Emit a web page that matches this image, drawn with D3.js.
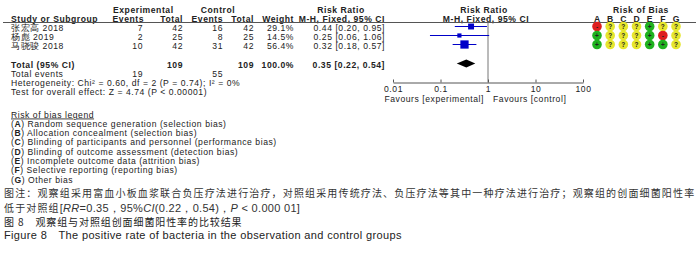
<!DOCTYPE html>
<html>
<head>
<meta charset="utf-8">
<script src="https://cdn.jsdelivr.net/npm/d3@7"></script>
<style>
  body { margin: 0; background: #fff; }
  text { font-family: "Liberation Sans", Arial, sans-serif; fill: #222; }
</style>
</head>
<body>
<script>
// chart data
var studies = ["张宏高 2018", "杨彪 2019", "马骁骏 2018"];
var expEvents = [7, 2, 10];
var expTotal = [42, 25, 42];
var ctrlEvents = [16, 8, 31];
var ctrlTotal = [42, 25, 42];
var weights = [29.1, 14.5, 56.4];
var rr = [0.44, 0.25, 0.32];
var rrLow = [0.20, 0.06, 0.18];
var rrHigh = [0.95, 1.06, 0.57];
var pooled = [0.35, 0.22, 0.54];
var totalEvents = [19, 55];
var totals = [109, 109];
var axisTicks = [0.01, 0.1, 1, 10, 100];
var biasLetters = ["A", "B", "C", "D", "E", "F", "G"];
var biasRows = [
  ["-", "?", "?", "?", "+", "?", "?"],
  ["+", "?", "?", "?", "+", "-", "?"],
  ["+", "?", "?", "?", "+", "+", "?"]
];
var biasLegend = [
  ["A", "Random sequence generation (selection bias)"],
  ["B", "Allocation concealment (selection bias)"],
  ["C", "Blinding of participants and personnel (performance bias)"],
  ["D", "Blinding of outcome assessment (detection bias)"],
  ["E", "Incomplete outcome data (attrition bias)"],
  ["F", "Selective reporting (reporting bias)"],
  ["G", "Other bias"]
];

var svgWidth = 700;
var svgHeight = 258;
var fs = 8.6;
var ls = "0.55px";

var svg = d3.select("body").append("svg")
  .attr("width", svgWidth)
  .attr("height", svgHeight);

// row positions
var rowY = d3.scalePoint().domain(d3.range(studies.length)).range([27.5, 45.5]);

function txt(x, y, s, anchor, bold) {
  return svg.append("text")
    .attr("x", x).attr("y", y)
    .attr("dy", "0.35em")
    .attr("text-anchor", anchor || "start")
    .style("font-size", fs + "px")
    .style("letter-spacing", ls)
    .style("font-weight", bold ? "bold" : "normal")
    .text(s);
}

// header
txt(113, 9.5, "Experimental", "start", true);
txt(218, 9.5, "Control", "middle", true);
txt(341, 9.5, "Risk Ratio", "middle", true);
txt(484, 9.5, "Risk Ratio", "middle", true);
txt(641, 9.5, "Risk of Bias", "middle", true);

txt(11, 18.5, "Study or Subgroup", "start", true);
txt(144, 18.5, "Events", "end", true);
txt(183, 18.5, "Total", "end", true);
txt(223, 18.5, "Events", "end", true);
txt(254, 18.5, "Total", "end", true);
txt(294, 18.5, "Weight", "end", true);
txt(385, 18.5, "M-H, Fixed, 95% CI", "end", true);
txt(486, 18.5, "M-H, Fixed, 95% CI", "middle", true);

svg.append("line")
  .attr("x1", 3).attr("x2", 696)
  .attr("y1", 22.5).attr("y2", 22.5)
  .attr("stroke", "#555").attr("stroke-width", 1);

// study rows
studies.forEach(function(s, i) {
  var y = rowY(i);
  txt(11, y, s, "start");
  txt(143, y, expEvents[i], "end");
  txt(183, y, expTotal[i], "end");
  txt(223, y, ctrlEvents[i], "end");
  txt(254, y, ctrlTotal[i], "end");
  txt(294, y, weights[i].toFixed(1) + "%", "end");
  txt(385, y, rr[i].toFixed(2) + " [" + rrLow[i].toFixed(2) + ", " + rrHigh[i].toFixed(2) + "]", "end");
});

// totals
var totY = 64.5;
txt(11, totY, "Total (95% CI)", "start", true);
txt(183, totY, totals[0], "end", true);
txt(254, totY, totals[1], "end", true);
txt(294, totY, "100.0%", "end", true);
txt(385, totY, pooled[0].toFixed(2) + " [" + pooled[1].toFixed(2) + ", " + pooled[2].toFixed(2) + "]", "end", true);
txt(11, 73.5, "Total events", "start");
txt(143, 73.5, totalEvents[0], "end");
txt(223, 73.5, totalEvents[1], "end");
txt(11, 83, "Heterogeneity: Chi\u00b2 = 0.60, df = 2 (P = 0.74); I\u00b2 = 0%", "start");
txt(11, 92, "Test for overall effect: Z = 4.74 (P < 0.00001)", "start");

// forest plot
var x = d3.scaleLog().domain([0.01, 100]).range([393, 583]);
var axisY = 82.5;

svg.append("line")
  .attr("x1", x(1)).attr("x2", x(1))
  .attr("y1", 22.5).attr("y2", axisY)
  .attr("stroke", "#777").attr("stroke-width", 1);

var xAxis = d3.axisBottom(x)
  .tickValues(axisTicks)
  .tickFormat(d3.format("~g"))
  .tickSizeInner(-3)
  .tickSizeOuter(0)
  .tickPadding(3);

var axisG = svg.append("g")
  .attr("transform", "translate(0," + axisY + ")")
  .call(xAxis);
axisG.select(".domain").attr("stroke", "#555");
axisG.selectAll(".tick line").attr("stroke", "#555");
axisG.selectAll(".tick text")
  .style("font-size", fs + "px")
  .style("letter-spacing", ls)
  .style("font-family", "'Liberation Sans', Arial, sans-serif")
  .attr("fill", "#222");

txt(x(1) - 4, 99, "Favours [experimental]", "end");
txt(x(1) + 5, 99, "Favours [control]", "start");

studies.forEach(function(s, i) {
  var y = rowY(i) - 1;
  svg.append("line")
    .attr("x1", x(rrLow[i])).attr("x2", x(rrHigh[i]))
    .attr("y1", y).attr("y2", y)
    .attr("stroke", "#0000c8").attr("stroke-width", 1);
  var side = Math.sqrt(weights[i]) * 1.1;
  svg.append("rect")
    .attr("x", x(rr[i]) - side / 2).attr("y", y - side / 2)
    .attr("width", side).attr("height", side)
    .attr("fill", "#0000c8");
});

var dy = 4;
var dY = totY - 1;
svg.append("path")
  .attr("d", "M" + x(pooled[1]) + "," + dY +
    "L" + x(pooled[0]) + "," + (dY - dy) +
    "L" + x(pooled[2]) + "," + dY +
    "L" + x(pooled[0]) + "," + (dY + dy) + "Z")
  .attr("fill", "#000");

// risk of bias
var bx = d3.scalePoint().domain(biasLetters).range([597, 676]);
biasLetters.forEach(function(l) {
  svg.append("text")
    .attr("x", bx(l)).attr("y", 18.5).attr("dy", "0.35em")
    .attr("text-anchor", "middle")
    .style("font-size", fs + "px").style("font-weight", "bold")
    .text(l);
});
var biasColor = { "+": "#1fb21f", "?": "#e6e62e", "-": "#de1f1f" };
biasRows.forEach(function(row, i) {
  var y = rowY(i) - 1;
  row.forEach(function(v, j) {
    var cx = bx(biasLetters[j]);
    svg.append("circle")
      .attr("cx", cx).attr("cy", y).attr("r", 4.8)
      .attr("fill", biasColor[v]);
    svg.append("text")
      .attr("x", cx).attr("y", y)
      .attr("dy", "0.35em")
      .attr("text-anchor", "middle")
      .style("font-size", "6.5px")
      .style("font-weight", "bold")
      .text(v);
  });
});

// risk of bias legend
var legY = 114.5;
svg.append("text")
  .attr("x", 11).attr("y", legY).attr("dy", "0.35em")
  .style("font-size", fs + "px")
  .style("letter-spacing", ls)
  .style("text-decoration", "underline")
  .text("Risk of bias legend");
biasLegend.forEach(function(d, i) {
  var t = svg.append("text")
    .attr("x", 11).attr("y", legY + 9.3 * (i + 1)).attr("dy", "0.35em")
    .style("font-size", fs + "px")
    .style("letter-spacing", ls);
  t.append("tspan").text("(");
  t.append("tspan").style("font-weight", "bold").text(d[0]);
  t.append("tspan").text(") " + d[1]);
});

// caption
var cjk = "'Noto Sans CJK SC', sans-serif";
var lat = "'Liberation Sans', Arial, sans-serif";
svg.append("text")
  .attr("x", 4).attr("y", 193.5).attr("dy", "0.35em")
  .style("font-family", cjk).style("font-size", "10px")
  .style("letter-spacing", "1.15px").style("fill", "#333")
  .text("图注：观察组采用富血小板血浆联合负压疗法进行治疗，对照组采用传统疗法、负压疗法等其中一种疗法进行治疗；观察组的创面细菌阳性率");

var l2 = svg.append("text")
  .attr("x", 4).attr("y", 208).attr("dy", "0.35em")
  .style("font-family", lat).style("font-size", "11px")
  .style("letter-spacing", "0.3px").style("fill", "#333");
l2.append("tspan").style("font-family", cjk).style("font-size", "10px").style("letter-spacing", "1.15px").text("低于对照组");
l2.append("tspan").text("[");
l2.append("tspan").style("font-style", "italic").text("RR");
l2.append("tspan").text("=0.35，95%");
l2.append("tspan").style("font-style", "italic").text("CI");
l2.append("tspan").text("(0.22，0.54)，");
l2.append("tspan").style("font-style", "italic").text("P");
l2.append("tspan").text(" < 0.000 01]");

svg.append("text")
  .attr("x", 4).attr("y", 222).attr("dy", "0.35em")
  .style("font-family", cjk).style("font-size", "10px")
  .style("letter-spacing", "0.9px").style("fill", "#222")
  .text("图 8　观察组与对照组创面细菌阳性率的比较结果");

svg.append("text")
  .attr("x", 4).attr("y", 235.5).attr("dy", "0.35em")
  .style("font-family", lat).style("font-size", "11px")
  .style("letter-spacing", "0.35px").style("fill", "#222")
  .text("Figure 8　The positive rate of bacteria in the observation and control groups");
</script>
</body>
</html>
